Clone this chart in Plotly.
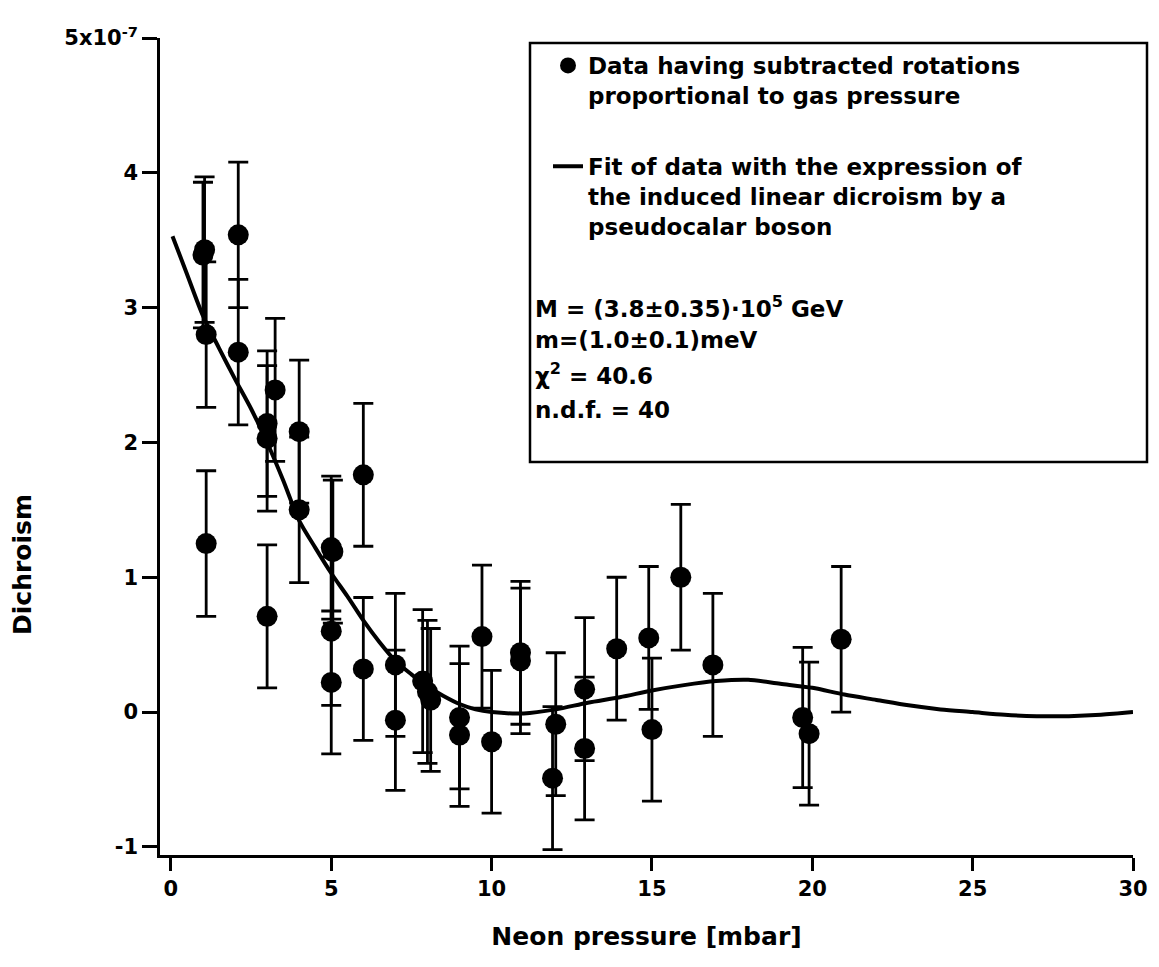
import plotly.graph_objects as go

# Measured dichroism (units of 1e-7) vs neon pressure (mbar)
pressure = [1.05, 1.0, 1.1, 1.1, 2.1, 2.1, 3.0, 3.0, 3.25, 3.0,
            4.0, 4.0, 5.0, 5.05, 5.0, 5.0, 6.0, 6.0, 7.0, 7.0,
            7.85, 8.0, 8.1, 9.0, 9.0, 9.7, 10.0, 10.9, 10.9, 12.0,
            11.9, 12.9, 12.9, 13.9, 14.9, 15.0, 15.9, 16.9, 19.7, 19.9,
            20.9]
dichroism = [3.43, 3.39, 2.80, 1.25, 3.54, 2.67, 2.14, 2.03, 2.39, 0.71,
             2.08, 1.50, 1.22, 1.19, 0.60, 0.22, 1.76, 0.32, 0.35, -0.06,
             0.23, 0.15, 0.09, -0.04, -0.17, 0.56, -0.22, 0.44, 0.38, -0.09,
             -0.49, 0.17, -0.27, 0.47, 0.55, -0.13, 1.00, 0.35, -0.04, -0.16,
             0.54]
dichroism_err = [0.54, 0.54, 0.54, 0.54, 0.54, 0.54, 0.54, 0.54, 0.53, 0.53,
                 0.53, 0.54, 0.53, 0.53, 0.55, 0.53, 0.53, 0.53, 0.53, 0.52,
                 0.53, 0.53, 0.53, 0.53, 0.53, 0.53, 0.53, 0.53, 0.54, 0.53,
                 0.53, 0.53, 0.53, 0.53, 0.53, 0.53, 0.54, 0.53, 0.52, 0.53,
                 0.54]

# Fit curve
fit_x = [0.05, 0.5, 1.0, 1.5, 2.0, 2.5, 3.0, 3.5, 4.0, 4.5, 5.0, 5.5, 6.0, 6.5,
         7.0, 7.5, 8.0, 8.5, 9.0, 9.5, 10.0, 11.0, 12.0, 13.0, 14.0, 15.0,
         16.0, 17.0, 18.0, 19.0, 20.0, 21.0, 22.0, 23.0, 24.0, 25.0, 26.0,
         27.0, 28.0, 29.0, 30.0]
fit_y = [3.53, 3.25, 2.94, 2.70, 2.47, 2.25, 2.00, 1.72, 1.42, 1.22, 1.03, 0.86,
         0.68, 0.52, 0.38, 0.28, 0.19, 0.12, 0.06, 0.02, 0.0, -0.01, 0.02,
         0.07, 0.11, 0.16, 0.20, 0.23, 0.24, 0.21, 0.18, 0.13, 0.09, 0.05,
         0.02, 0.0, -0.02, -0.03, -0.03, -0.02, 0.0]

x_tickvals = [0, 5, 10, 15, 20, 25, 30]
y_tickvals = [-1, 0, 1, 2, 3, 4, 5]
y_ticktext = ["-1", "0", "1", "2", "3", "4", "5x10<sup>-7</sup>"]

data_label = "Data having subtracted rotations<br>proportional to gas pressure"
fit_label = "Fit of data with the expression of<br>the induced linear dicroism by a<br>pseudocalar boson"
param_lines = ["M = (3.8±0.35)·10<sup>5</sup> GeV",
               "m=(1.0±0.1)meV",
               "χ<sup>2</sup> = 40.6",
               "n.d.f. = 40"]

FONT = "DejaVu Sans"
OFF = 8  # page body margin
W, H = 1159 - OFF, 967 - OFF
# plot area in page pixels: x 160..1133, y 38..855
L, R, T, B = 160 - OFF, W - (1133 - OFF), 38 - OFF, H - (855 - OFF)
PW, PH = W - L - R, H - T - B


def px_to_paper_x(px):
    return (px - OFF - L) / PW


def px_to_paper_y(py):
    return (H - B - (py - OFF)) / PH


fig = go.Figure()
fig.add_trace(go.Scatter(
    x=pressure, y=dichroism, mode="markers", name=data_label,
    legendgroup="data",
    marker=dict(color="black", size=21, symbol="circle"),
    error_y=dict(type="data", array=dichroism_err, color="black",
                 thickness=2.8, width=10),
))
fig.add_trace(go.Scatter(
    x=fit_x, y=fit_y, mode="lines", name=fit_label, legendgroup="fit",
    line=dict(color="black", width=4, shape="spline", smoothing=0.8),
))

# legend box
fig.add_shape(type="rect", xref="paper", yref="paper",
              x0=px_to_paper_x(530), x1=px_to_paper_x(1147),
              y0=px_to_paper_y(462), y1=px_to_paper_y(43),
              line=dict(color="black", width=2.5), fillcolor="rgba(0,0,0,0)",
              layer="below")

for txt, py in zip(param_lines, [307, 340, 374, 410]):
    fig.add_annotation(text=txt, xref="paper", yref="paper",
                       x=px_to_paper_x(533), y=px_to_paper_y(py),
                       xanchor="left", yanchor="middle", showarrow=False,
                       font=dict(family=FONT, size=23, color="black", weight="bold"))

# y-axis title placed as in the original (below centre)
fig.add_annotation(text="Dichroism", xref="paper", yref="paper",
                   x=px_to_paper_x(22), y=px_to_paper_y(565),
                   xanchor="center", yanchor="middle", textangle=-90,
                   showarrow=False,
                   font=dict(family=FONT, size=25, color="black", weight="bold"))

fig.update_layout(
    width=W, height=H, autosize=False,
    margin=dict(l=L, r=R, t=T, b=B),
    paper_bgcolor="white", plot_bgcolor="white",
    font=dict(family=FONT, color="black", weight="bold"),
    showlegend=True,
    legend=dict(x=px_to_paper_x(548), y=px_to_paper_y(44), xanchor="left",
                yanchor="top", bgcolor="rgba(0,0,0,0)", borderwidth=0,
                valign="top", traceorder="grouped", tracegroupgap=38,
                font=dict(family=FONT, size=23, color="black", weight="bold")),
    xaxis=dict(range=[-0.34, 30], tickvals=x_tickvals, showgrid=False,
               zeroline=False, showline=True, linecolor="black", linewidth=2.5,
               ticks="outside", ticklen=13, tickwidth=2.5, tickcolor="black",
               tickfont=dict(family=FONT, size=21, color="black", weight="bold"),
               title=dict(text="Neon pressure [mbar]", standoff=28,
                          font=dict(family=FONT, size=25, color="black", weight="bold"))),
    yaxis=dict(range=[-1.06, 5.0], tickvals=y_tickvals, ticktext=y_ticktext,
               showgrid=False, zeroline=False, showline=True,
               linecolor="black", linewidth=2.5,
               ticks="outside", ticklen=15, tickwidth=2.5, tickcolor="black",
               tickfont=dict(family=FONT, size=21, color="black", weight="bold")),
)

fig.write_html("out.html")
